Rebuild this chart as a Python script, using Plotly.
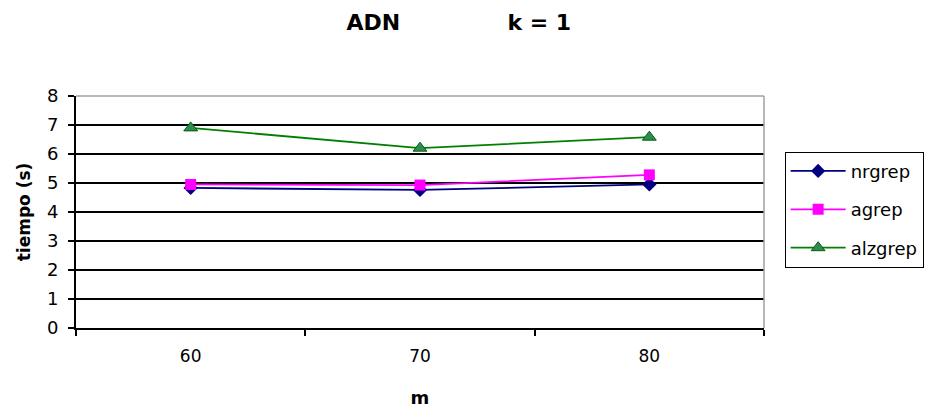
import plotly.graph_objects as go

m_vals = ["60", "70", "80"]
nrgrep = [4.83, 4.76, 4.95]
agrep = [4.95, 4.93, 5.28]
alzgrep = [6.9, 6.2, 6.58]
y_ticks = [0, 1, 2, 3, 4, 5, 6, 7, 8]

FONT = "DejaVu Sans, Liberation Sans, Arial, sans-serif"

fig = go.Figure()
fig.add_trace(go.Scatter(x=m_vals, y=nrgrep, name="nrgrep", mode="lines+markers",
                         legendgroup="a",
                         line=dict(color="#000080", width=1.8),
                         marker=dict(symbol="diamond", size=11, color="#000080")))
fig.add_trace(go.Scatter(x=m_vals, y=agrep, name="agrep", mode="lines+markers",
                         legendgroup="b",
                         line=dict(color="#FF00FF", width=1.8),
                         marker=dict(symbol="square", size=11, color="#FF00FF")))
fig.add_trace(go.Scatter(x=m_vals, y=alzgrep, name="alzgrep", mode="lines+markers",
                         legendgroup="c",
                         line=dict(color="#008000", width=1.8),
                         marker=dict(symbol="triangle-up", size=12, color="#2E8B57",
                                     line=dict(color="#006400", width=1))))

fig.update_layout(
    width=925, height=413,
    margin=dict(l=76, r=161, t=96, b=85, autoexpand=False),
    paper_bgcolor="white", plot_bgcolor="white",
    font=dict(family=FONT, size=17, color="black"),
    title=dict(text="<b>ADN" + " " * 14 + "k = 1</b>", x=0.496, xanchor="center",
               y=0.947, yanchor="middle", font=dict(size=22, family=FONT)),
    showlegend=True,
    legend=dict(x=1.03, xanchor="left", y=0.76, yanchor="top",
                bordercolor="black", borderwidth=1, bgcolor="white",
                font=dict(size=18, family=FONT), tracegroupgap=12,
                traceorder="grouped", itemwidth=55),
    xaxis=dict(type="category", range=[-0.5, 2.5], showgrid=False,
               showline=True, linecolor="black", linewidth=2,
               ticks="outside", tickson="boundaries", ticklen=6,
               tickcolor="black", tickwidth=1.5, ticklabelstandoff=12,
               tickfont=dict(size=17), zeroline=False,
               title=dict(text="<b>m</b>", font=dict(size=18), standoff=26)),
    yaxis=dict(range=[0, 8], tickvals=y_ticks, showgrid=True,
               gridcolor="black", gridwidth=1.8,
               showline=True, linecolor="black", linewidth=2,
               ticks="outside", ticklen=6, tickcolor="black", tickwidth=1.5,
               ticklabelstandoff=6,
               tickfont=dict(size=18), zeroline=False,
               title=dict(text="<b>tiempo (s)</b>", font=dict(size=17), standoff=12)),
)

fig.add_shape(type="line", xref="paper", yref="paper", x0=0, x1=1, y0=1, y1=1,
              line=dict(color="#A0A0A0", width=1.5))
fig.add_shape(type="line", xref="paper", yref="paper", x0=1, x1=1, y0=0, y1=1,
              line=dict(color="#A0A0A0", width=1.5))

fig.write_html("out.html")
